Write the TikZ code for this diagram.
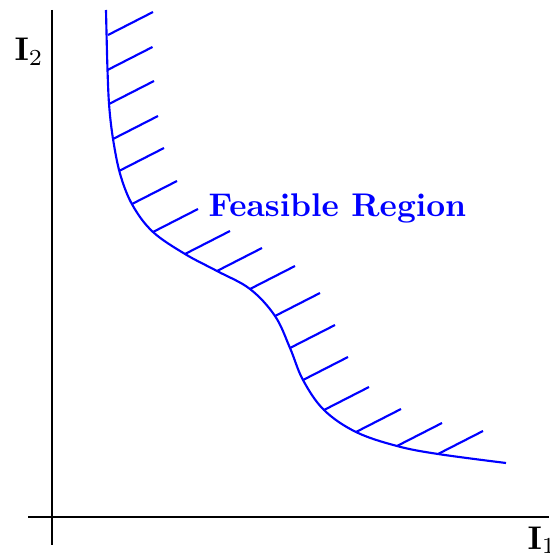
\documentclass[tikz,border=0pt]{standalone}
\usetikzlibrary{calc}
\definecolor{regionblue}{HTML}{0000FF}
\tikzset{
  axisline/.style={draw=black,line width=.65pt},
  boundary/.style={draw=regionblue,line width=.65pt},
  hatch/.style={draw=regionblue,line width=.65pt},
  axislabel/.style={anchor=base west,inner sep=0pt,font=\bfseries}}

\begin{document}
\begin{tikzpicture}[x=.305pt,y=-.305pt]
\useasboundingbox (0,0) rectangle (549,553);
% axes
\draw[axisline] (52,10)--(52,545);
\draw[axisline] (28,517)--(549,517);
\node[axislabel] (Itwo) at (14,61) {$\mathbf{I}_2$};
\node[axislabel] (Ione) at (527,549) {$\mathbf{I}_1$};
% boundary of the region
\draw[boundary] plot[smooth,tension=.6] coordinates {(106,10) (107.5,70) (109.5,110) (114,145)
  (121,177) (133,206) (153,232) (185,254) (217,271) (250,289) (275,316) (290,348)
  (303,380) (324,410) (356,432) (397,446) (438,454) (506,463)};
\foreach \p in {(108,35),(107.5,70),(109,104),(113,139),(119,171),(132,204),(153,232),
  (185,254),(217,271),(250,289),(275,316),(290,348),(303,380),(324,410),(356,432),
  (397,446),(438,454)}
  {\draw[hatch] \p -- ++(45,-23);}
\node[regionblue,anchor=base west,inner sep=0pt,font=\bfseries] (feas) at (208,216) {Feasible Region};
\end{tikzpicture}
\end{document}
